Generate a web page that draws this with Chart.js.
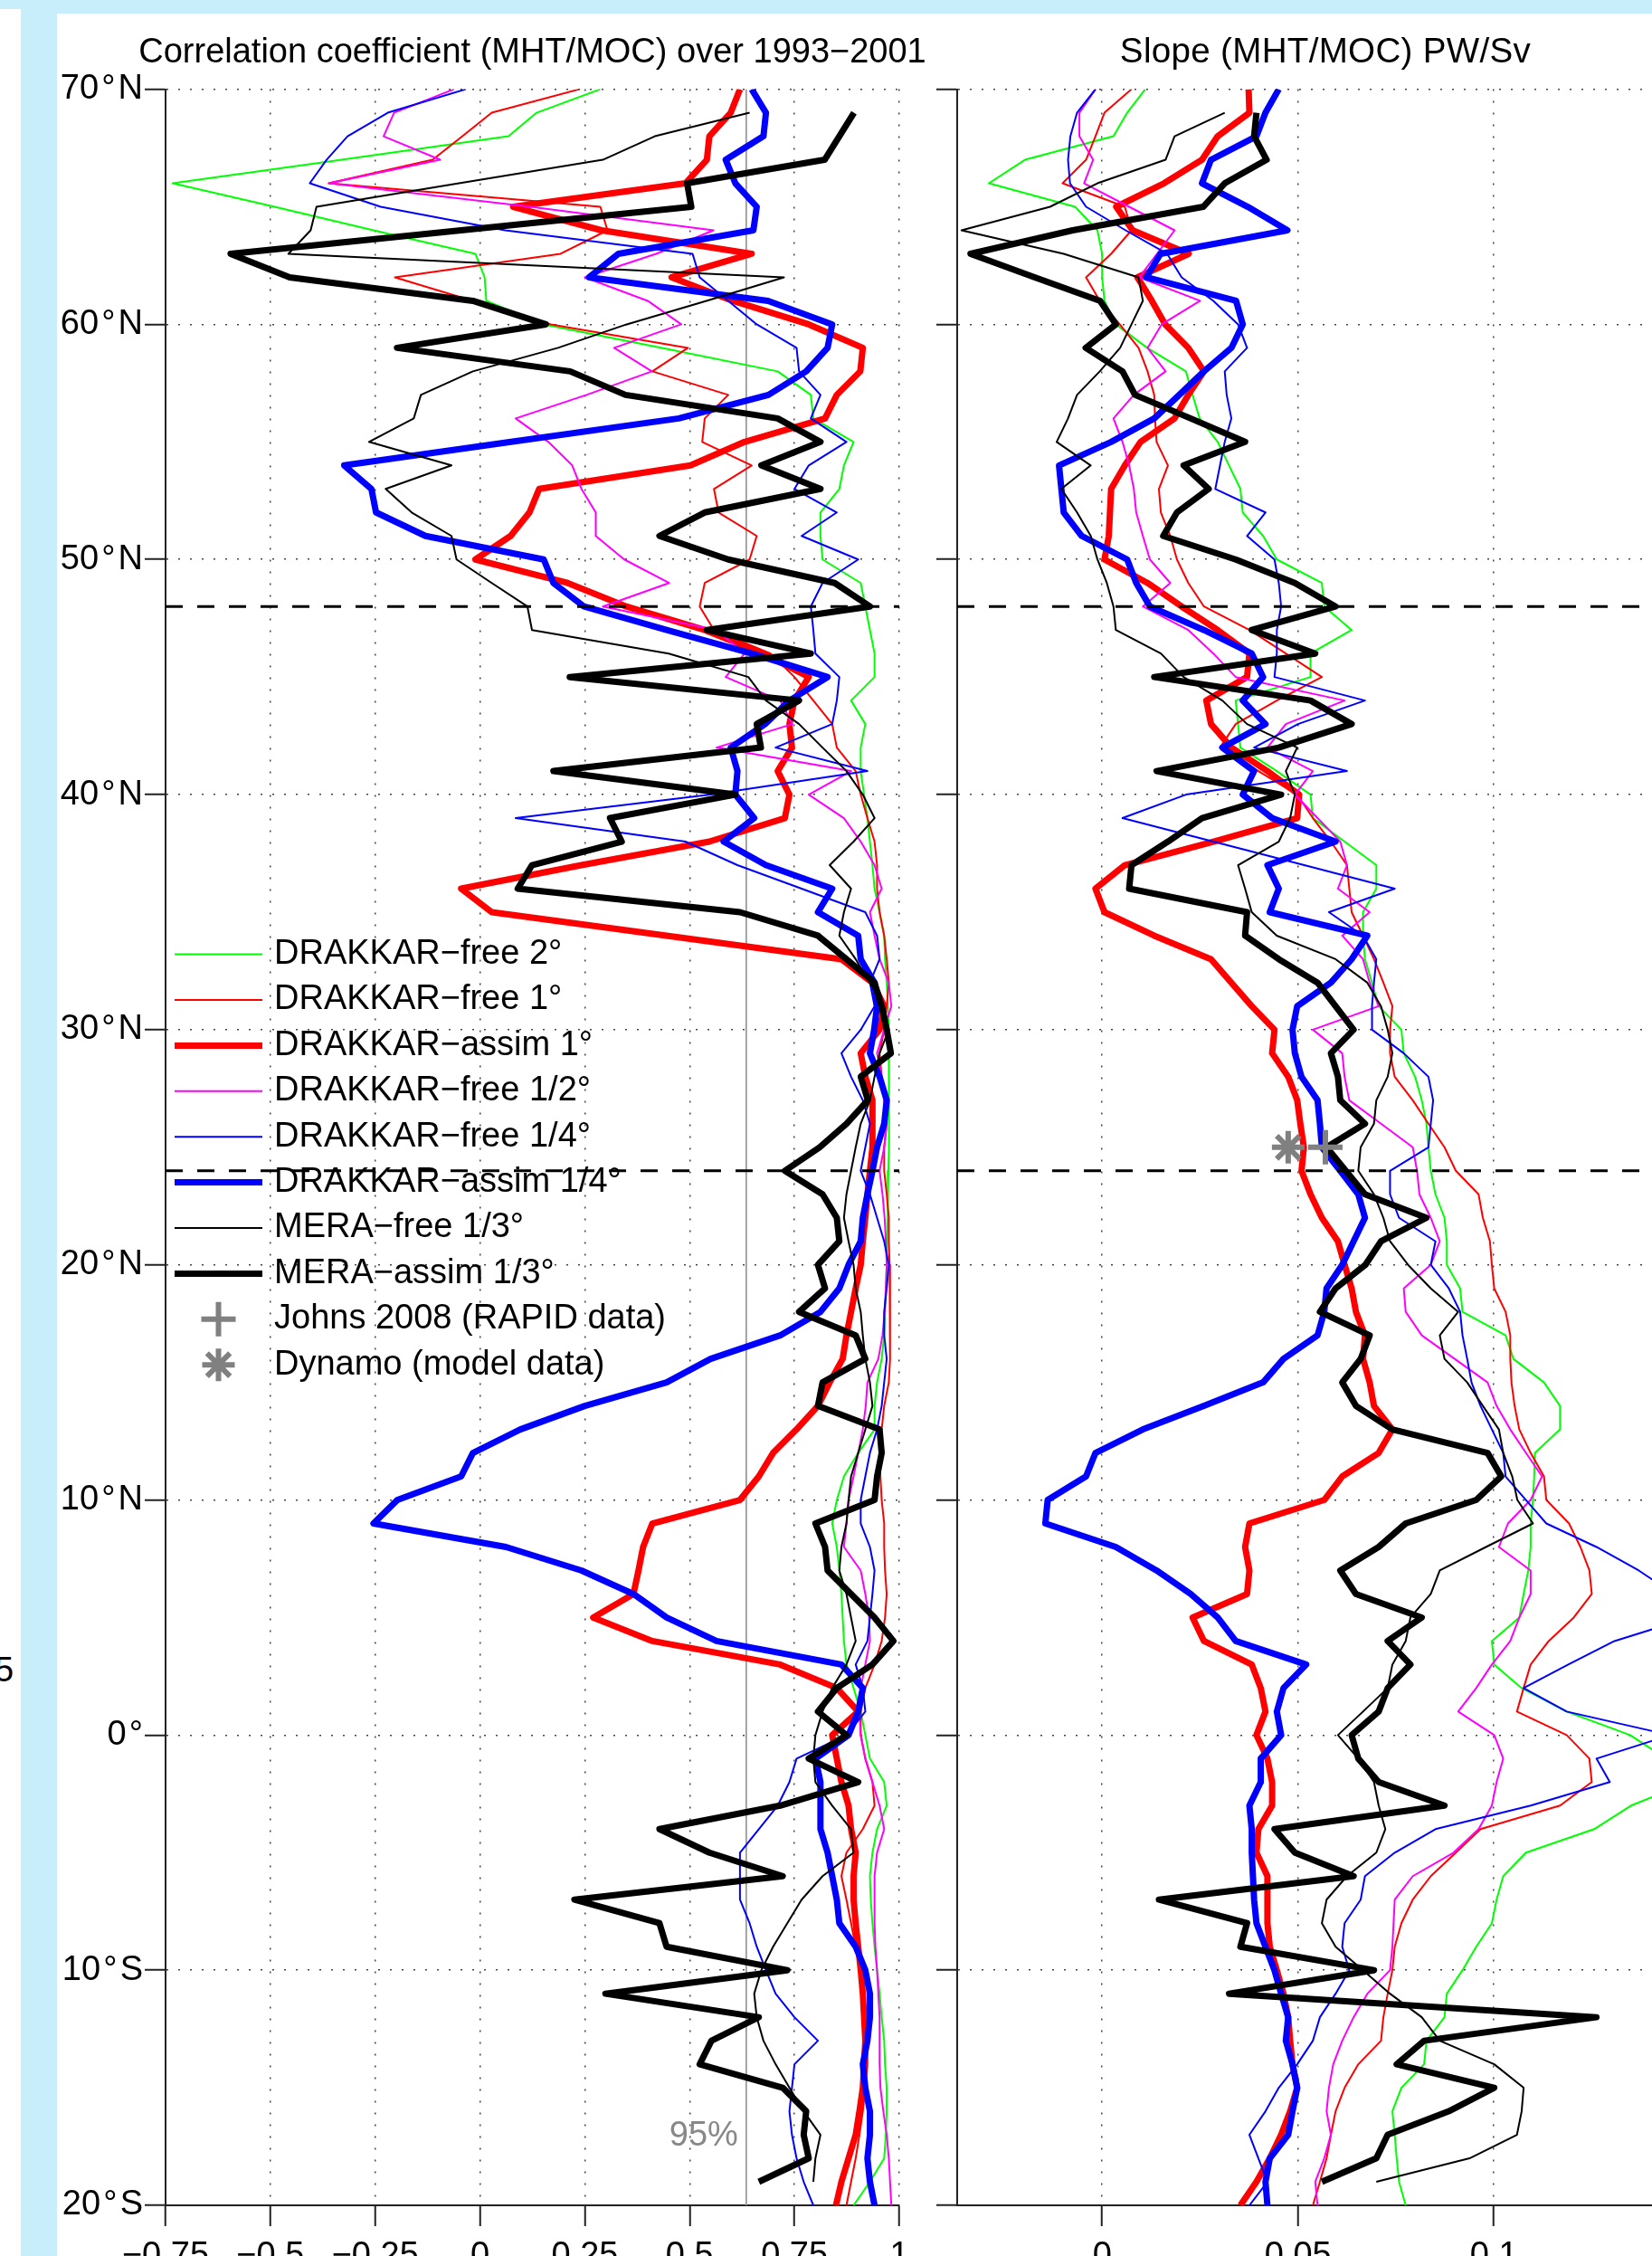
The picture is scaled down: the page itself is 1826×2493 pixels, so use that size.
<!DOCTYPE html>
<html>
<head>
<meta charset="utf-8">
<script src="https://cdn.jsdelivr.net/npm/chart.js@4.4.1/dist/chart.umd.min.js"></script>
<style>
  html, body { margin: 0; padding: 0; width: 1826px; height: 2493px; overflow: hidden; background: #ffffff; }
  #topBand  { position: absolute; left: 0; top: 0; width: 1826px; height: 15px; background: #c8eefc; }
  #leftBand { position: absolute; left: 23px; top: 0; width: 40px; height: 2493px; background: #c8eefc; }
  #leftEdge { position: absolute; left: 0; top: 10px; width: 23px; height: 2483px; background: #ffffff; overflow: hidden; }
  #leftEdge span { position: absolute; left: -6px; top: 1816px; font: 38px 'Liberation Sans', Arial, sans-serif; line-height: 38px; color: #000; }
  #wrapCorr  { position: absolute; left: 63px;   top: 15px; width: 960px; height: 2478px; }
  #wrapSlope { position: absolute; left: 1023px; top: 15px; width: 849px; height: 2478px; }
</style>
</head>
<body>
<div id="topBand"></div>
<div id="leftBand"></div>
<div id="leftEdge"><span>5</span></div>
<div id="wrapCorr"><canvas id="corrChart" width="960" height="2478"></canvas></div>
<div id="wrapSlope"><canvas id="slopeChart" width="849" height="2478"></canvas></div>

<script>
// Latitude of every sample, 70°N to 20°S (negative = south)
const LAT = [70,69,68,67,66,65,64,63,62,61,
             60,59,58,57,56,55,54,53,52,51,
             50,49,48,47,46,45,44,43,42,41,
             40,39,38,37,36,35,34,33,32,31,
             30,29,28,27,26,25,24,23,22,21,
             20,19,18,17,16,15,14,13,12,11,
             10,9,8,7,6,5,4,3,2,1,
             0,-1,-2,-3,-4,-5,-6,-7,-8,-9,
             -10,-11,-12,-13,-14,-15,-16,-17,-18,-19,
             -20];

// Axis ticks and labels
const Y_TICKS  = [-20,-10,0,10,20,30,40,50,60,70];
const Y_LABELS = ['20\u200A°\u200AS','10\u200A°\u200AS','0\u200A°','10\u200A°\u200AN','20\u200A°\u200AN',
                  '30\u200A°\u200AN','40\u200A°\u200AN','50\u200A°\u200AN','60\u200A°\u200AN','70\u200A°\u200AN'];
const CORR_TICKS  = [-0.75,-0.5,-0.25,0,0.25,0.5,0.75,1];
const CORR_LABELS = ['−0.75','−0.5','−0.25','0','0.25','0.5','0.75','1'];
const SLOPE_TICKS  = [0,0.05,0.1];
const SLOPE_LABELS = ['0','0.05','0.1'];
const CORR_RANGE  = [-0.75, 1];
const SLOPE_RANGE = [-0.037, 0.151];
const LAT_RANGE   = [-20, 70];

// Reference latitudes (dashed) and 95% significance level of the correlation
const SECTION_LATS = [48, 24];
const SIG95 = 0.635;

// Observation / model estimates of the slope at 25°N
const RAPID_SLOPE  = [{x: 0.057,  y: 25}];
const DYNAMO_SLOPE = [{x: 0.0475, y: 25}];

// ---------- Correlation coefficient MHT/MOC, 1993-2001 ----------
const corrFree2 = [0.287,0.135,0.068,-0.33,-0.733,-0.49,-0.254,-0.011,0.011,0.015,
  0.152,0.434,0.71,0.789,0.795,0.891,0.868,0.857,0.812,0.812,
  0.817,0.908,0.919,0.93,0.941,0.941,0.885,0.919,0.908,0.908,
  0.916,0.924,0.93,0.936,0.941,0.953,0.964,0.966,0.97,0.973,
  0.975,0.975,0.975,0.976,0.976,0.975,0.974,0.973,0.972,0.971,
  0.97,0.968,0.966,0.964,0.958,0.947,0.941,0.941,0.902,0.868,
  0.851,0.84,0.851,0.857,0.862,0.865,0.868,0.874,0.891,0.908,
  0.919,0.93,0.964,0.97,0.947,0.936,0.93,0.932,0.936,0.941,
  0.947,0.953,0.958,0.964,0.966,0.97,0.97,0.968,0.964,0.93,
  0.891];
const corrFree1 = [0.237,0.028,-0.042,-0.113,-0.361,0.287,0.304,0.192,-0.203,-0.017,
  0.169,0.496,0.411,0.592,0.536,0.53,0.648,0.558,0.569,0.66,
  0.643,0.536,0.524,0.558,0.693,0.75,0.795,0.84,0.851,0.896,
  0.908,0.924,0.941,0.947,0.947,0.953,0.964,0.97,0.975,0.97,
  0.964,0.953,0.958,0.964,0.97,0.964,0.964,0.97,0.975,0.975,
  0.977,0.978,0.978,0.978,0.978,0.975,0.964,0.958,0.953,0.955,
  0.958,0.964,0.964,0.966,0.97,0.966,0.958,0.941,0.919,0.908,
  0.908,0.919,0.936,0.941,0.913,0.874,0.862,0.874,0.885,0.896,
  0.908,0.916,0.921,0.924,0.924,0.919,0.913,0.905,0.896,0.885,
  0.874];
const corrAssim1 = [0.62,0.598,0.547,0.541,0.49,0.079,0.29,0.648,0.457,0.603,
  0.784,0.913,0.907,0.851,0.823,0.631,0.502,0.141,0.118,0.073,
  -0.011,0.209,0.349,0.536,0.676,0.784,0.75,0.738,0.744,0.71,
  0.738,0.727,0.547,0.242,-0.045,0.028,0.445,0.862,0.936,0.964,
  0.953,0.908,0.919,0.936,0.936,0.936,0.93,0.924,0.919,0.913,
  0.908,0.896,0.885,0.874,0.865,0.834,0.806,0.755,0.699,0.665,
  0.62,0.411,0.389,0.378,0.366,0.27,0.411,0.716,0.851,0.902,
  0.84,0.851,0.862,0.879,0.885,0.896,0.891,0.891,0.896,0.902,
  0.908,0.913,0.916,0.919,0.916,0.913,0.905,0.896,0.879,0.862,
  0.849];
const corrFree05 = [-0.062,-0.205,-0.23,-0.095,-0.36,0.12,0.557,0.42,0.25,0.40,
  0.48,0.32,0.41,0.254,0.085,0.163,0.22,0.242,0.276,0.276,
  0.344,0.451,0.293,0.564,0.631,0.586,0.716,0.745,0.564,0.885,
  0.784,0.868,0.908,0.941,0.958,0.93,0.941,0.953,0.975,0.981,
  0.964,0.947,0.958,0.97,0.97,0.964,0.953,0.96,0.965,0.968,
  0.97,0.968,0.965,0.96,0.95,0.924,0.92,0.913,0.902,0.891,
  0.879,0.874,0.868,0.908,0.919,0.928,0.93,0.919,0.908,0.905,
  0.908,0.919,0.936,0.953,0.964,0.947,0.941,0.941,0.941,0.943,
  0.947,0.95,0.953,0.953,0.953,0.955,0.962,0.97,0.975,0.978,
  0.981];
const corrFree025 = [-0.034,-0.22,-0.316,-0.366,-0.406,-0.237,0.06,0.507,0.524,0.592,
  0.66,0.755,0.761,0.812,0.789,0.874,0.784,0.75,0.851,0.767,
  0.902,0.817,0.789,0.795,0.80,0.857,0.851,0.84,0.705,0.924,
  0.55,0.085,0.49,0.614,0.767,0.919,0.947,0.953,0.93,0.941,
  0.908,0.862,0.885,0.913,0.93,0.919,0.908,0.93,0.947,0.964,
  0.975,0.97,0.964,0.964,0.97,0.964,0.958,0.947,0.93,0.919,
  0.908,0.908,0.93,0.941,0.936,0.93,0.924,0.896,0.913,0.919,
  0.874,0.755,0.738,0.71,0.665,0.62,0.62,0.62,0.643,0.66,
  0.682,0.705,0.75,0.806,0.75,0.744,0.738,0.744,0.755,0.772,
  0.795];
const corrAssim025 = [0.648,0.682,0.676,0.586,0.609,0.66,0.652,0.33,0.26,0.687,
  0.84,0.829,0.778,0.688,0.474,0.074,-0.324,-0.259,-0.248,-0.13,
  0.152,0.175,0.248,0.445,0.648,0.829,0.738,0.68,0.598,0.614,
  0.609,0.654,0.581,0.682,0.84,0.806,0.902,0.908,0.941,0.947,
  0.94,0.93,0.953,0.97,0.964,0.947,0.936,0.924,0.913,0.908,
  0.879,0.857,0.812,0.716,0.55,0.445,0.25,0.096,-0.017,-0.045,
  -0.197,-0.254,0.062,0.242,0.366,0.445,0.564,0.862,0.913,0.902,
  0.879,0.80,0.812,0.812,0.812,0.829,0.84,0.851,0.857,0.896,
  0.919,0.93,0.93,0.924,0.913,0.919,0.93,0.93,0.924,0.93,
  0.941];
const corrMeraFree = [null,0.643,0.417,0.293,-0.05,-0.39,-0.404,-0.457,0.725,0.54,
  0.35,0.186,-0.017,-0.141,-0.158,-0.265,-0.068,-0.225,-0.163,-0.068,
  -0.056,0.028,0.113,0.124,0.45,0.64,0.682,0.761,0.817,0.874,
  0.913,0.941,0.891,0.834,0.885,0.868,0.857,0.896,0.93,0.964,
  0.975,0.953,0.941,0.93,0.908,0.896,0.885,0.874,0.868,0.879,
  0.891,0.896,0.908,0.913,0.919,0.93,0.936,0.919,0.902,0.885,
  0.879,0.874,0.862,0.857,0.874,0.885,0.896,0.874,0.84,0.817,
  0.80,0.795,0.80,0.84,0.885,0.891,0.817,0.767,0.733,0.699,
  0.671,0.654,0.66,0.676,0.705,0.738,0.772,0.812,0.80,0.795,
  null];
const corrMeraAssim = [null,0.892,0.857,0.822,0.494,0.504,-0.045,-0.595,-0.454,-0.017,
  0.157,-0.198,0.215,0.347,0.71,0.812,0.671,0.812,0.536,0.428,
  0.592,0.846,0.93,0.541,0.789,0.214,0.761,0.66,0.67,0.175,
  0.609,0.31,0.338,0.124,0.09,0.62,0.806,0.874,0.941,0.958,
  0.97,0.98,0.908,0.925,0.874,0.81,0.727,0.817,0.851,0.857,
  0.806,0.823,0.761,0.896,0.919,0.817,0.806,0.953,0.958,0.947,
  0.941,0.80,0.823,0.829,0.885,0.941,0.986,0.936,0.851,0.806,
  0.874,0.784,0.902,0.716,0.428,0.547,0.722,0.225,0.428,0.445,
  0.733,0.299,0.665,0.552,0.524,0.722,0.778,0.772,0.784,0.665,
  null];

// ---------- Slope MHT/MOC (PW/Sv) ----------
const slopeFree2 = [0.011,0.0064,0.0029,-0.0197,-0.0289,-0.0069,-0.0012,0.0,0.0,0.0006,
  0.0035,0.0115,0.0214,0.0231,0.0249,0.0295,0.0324,0.0353,0.0359,0.0411,
  0.0446,0.0561,0.0567,0.0637,0.0532,0.0532,0.0341,0.0347,0.0353,0.0446,
  0.0532,0.0538,0.0619,0.07,0.07,0.0666,0.0666,0.0671,0.0689,0.0706,
  0.0764,0.077,0.0799,0.0816,0.0828,0.0833,0.0839,0.0851,0.0874,0.088,
  0.088,0.0914,0.092,0.103,0.105,0.1128,0.1169,0.1169,0.1105,0.1103,
  0.11,0.1094,0.1094,0.1088,0.1076,0.1065,0.0995,0.1001,0.1071,0.1186,
  0.1348,0.144,0.15,0.135,0.1256,0.1082,0.1024,0.1007,0.0995,0.0955,
  0.092,0.088,0.0874,0.0828,0.0822,0.0764,0.0741,0.0747,0.0752,0.0758,
  0.0775];
const slopeFree1 = [0.0075,0.0006,-0.0017,-0.0041,-0.0101,0.0058,0.0075,0.0023,-0.0041,-0.0006,
  0.0045,0.0093,0.0116,0.0133,0.0135,0.0139,0.0168,0.0145,0.015,0.0174,
  0.0191,0.022,0.026,0.0376,0.0469,0.0561,0.0446,0.0341,0.0301,0.0399,
  0.0498,0.0538,0.0584,0.0625,0.0631,0.0637,0.0666,0.0694,0.0718,0.0741,
  0.0735,0.0735,0.0747,0.0793,0.0833,0.0874,0.0903,0.0961,0.0972,0.099,
  0.0995,0.1001,0.103,0.1042,0.1042,0.1045,0.1053,0.1065,0.1094,0.1128,
  0.1134,0.1192,0.1221,0.1244,0.125,0.1204,0.114,0.1094,0.1076,0.1059,
  0.1186,0.1244,0.125,0.1169,0.0966,0.0903,0.0839,0.0793,0.0764,0.0747,
  0.0741,0.0729,0.0718,0.0712,0.0654,0.0619,0.0596,0.0584,0.0573,0.0556,
  0.0538];
const slopeAssim1 = [0.0374,0.0376,0.0295,0.0255,0.0158,0.0036,0.0078,0.0221,0.009,0.0127,
  0.0161,0.022,0.026,0.022,0.0185,0.0098,0.0058,0.0023,0.002,0.0017,
  0.0006,0.0116,0.0203,0.0295,0.0376,0.037,0.0266,0.0278,0.033,0.0422,
  0.0503,0.0498,0.0284,0.0058,-0.0017,0.0006,0.0133,0.0278,0.033,0.0382,
  0.044,0.0434,0.0475,0.0498,0.0506,0.0515,0.0509,0.0532,0.0561,0.0602,
  0.0619,0.0637,0.0648,0.0671,0.0666,0.0683,0.0694,0.0741,0.0706,0.0613,
  0.0567,0.0376,0.0365,0.0376,0.037,0.0231,0.026,0.0382,0.0405,0.0417,
  0.0394,0.0422,0.0434,0.0434,0.0399,0.0394,0.0422,0.0422,0.0422,0.0428,
  0.0446,0.0463,0.0475,0.048,0.0486,0.0498,0.048,0.0457,0.0428,0.0394,
  0.0353];
const slopeFree05 = [-0.0017,-0.0058,-0.0058,-0.0023,-0.0046,0.0069,0.0185,0.014,0.0095,0.025,
  0.0152,0.0116,0.0162,0.0081,0.0029,0.0052,0.0069,0.0081,0.0087,0.0104,
  0.0122,0.0174,0.0104,0.022,0.0284,0.0341,0.0619,0.0469,0.0422,0.0538,
  0.0492,0.055,0.0608,0.0625,0.0602,0.0683,0.0613,0.0666,0.0683,0.0706,
  0.0538,0.0613,0.0619,0.0631,0.0712,0.0793,0.0804,0.081,0.0839,0.0862,
  0.0839,0.077,0.0775,0.0816,0.09,0.0984,0.1007,0.1042,0.1082,0.1123,
  0.1094,0.1036,0.1013,0.1094,0.1094,0.1065,0.1042,0.0995,0.0955,0.0909,
  0.1001,0.1024,0.1007,0.0995,0.0961,0.0897,0.0793,0.0747,0.0744,0.0741,
  0.0735,0.0677,0.0642,0.0613,0.059,0.0579,0.0573,0.0584,0.0567,0.0544,
  0.055];
const slopeFree025 = [-0.0017,-0.0064,-0.0081,-0.0087,-0.0082,-0.0041,0.006,0.0166,0.0203,0.0284,
  0.0347,0.037,0.0313,0.0318,0.033,0.0313,0.0301,0.0289,0.0417,0.037,
  0.044,0.0451,0.0457,0.0446,0.0446,0.044,0.0671,0.05,0.0388,0.0625,
  0.0214,0.0052,0.0284,0.0516,0.0747,0.0579,0.0666,0.07,0.0694,0.0689,
  0.0689,0.077,0.0833,0.0845,0.0839,0.0833,0.0735,0.0735,0.0758,0.0851,
  0.0839,0.0885,0.0914,0.092,0.0932,0.0943,0.0966,0.0995,0.1024,0.103,
  0.1082,0.1134,0.1262,0.137,0.146,0.15,0.1308,0.119,0.1076,0.1186,
  0.145,0.1262,0.1296,0.1094,0.0851,0.0747,0.0671,0.066,0.0619,0.0613,
  0.0631,0.0596,0.0556,0.0538,0.0498,0.0451,0.0417,0.0376,0.0399,0.0422,
  0.0376];
const slopeAssim025 = [0.0451,0.0417,0.0394,0.0278,0.0255,0.0372,0.0473,0.0149,0.0113,0.0342,
  0.0359,0.033,0.026,0.0197,0.0133,0.0023,-0.011,-0.0104,-0.0098,-0.0052,
  0.0064,0.0087,0.0122,0.026,0.0382,0.0411,0.0359,0.0417,0.0307,0.0388,
  0.0359,0.0434,0.0596,0.0422,0.0451,0.0428,0.0677,0.0637,0.0584,0.0498,
  0.0486,0.0492,0.0509,0.055,0.0556,0.0561,0.0608,0.0654,0.0671,0.0642,
  0.0613,0.0573,0.0567,0.055,0.0463,0.0411,0.026,0.0104,-0.0017,-0.0041,
  -0.0139,-0.0145,0.0035,0.0139,0.0226,0.0295,0.0341,0.0521,0.0463,0.0446,
  0.0457,0.0405,0.0405,0.0376,0.0382,0.0382,0.0385,0.0388,0.0394,0.0417,
  0.044,0.0457,0.0475,0.0469,0.0486,0.0498,0.0486,0.0475,0.0428,0.0417,
  0.0422];
const slopeMeraFree = [null,0.0313,0.0185,0.0162,-0.0012,-0.0133,-0.0359,-0.0098,0.0093,0.0104,
  0.0075,0.0046,-0.0006,-0.0064,-0.0087,-0.0116,-0.0029,-0.0104,-0.0064,-0.0029,
  -0.0012,0.0012,0.0029,0.0035,0.015,0.0208,0.0307,0.037,0.0498,0.0469,
  0.0492,0.048,0.0451,0.0347,0.0365,0.0382,0.0446,0.0596,0.0677,0.0712,
  0.0729,0.0741,0.0729,0.07,0.0694,0.066,0.0654,0.0694,0.0718,0.0735,
  0.0781,0.0839,0.0909,0.0862,0.0874,0.0932,0.0972,0.1013,0.1024,0.1047,
  0.106,0.11,0.098,0.0862,0.0839,0.0787,0.0775,0.0741,0.0729,0.0666,
  0.0602,0.0654,0.0694,0.0706,0.0723,0.07,0.0625,0.0573,0.0561,0.0596,
  0.0666,0.0735,0.0816,0.0862,0.1001,0.1076,0.1071,0.1059,0.0938,0.07,
  null];
const slopeMeraAssim = [null,0.0394,0.0388,0.042,0.0313,0.0258,-0.0075,-0.0336,-0.0172,-0.0005,
  0.0035,-0.0042,0.0052,0.0084,0.0226,0.0365,0.0208,0.0272,0.0191,0.0156,
  0.0341,0.0492,0.0596,0.0382,0.0544,0.0133,0.0532,0.0637,0.0451,0.0139,
  0.0457,0.0255,0.0168,0.0075,0.0069,0.037,0.0365,0.0451,0.055,0.0596,
  0.0642,0.0584,0.0602,0.0608,0.0671,0.0573,0.0622,0.0671,0.0828,0.0712,
  0.0672,0.0596,0.0556,0.0683,0.066,0.0613,0.0648,0.0741,0.0984,0.1019,
  0.0955,0.0775,0.0706,0.0608,0.0648,0.0816,0.0729,0.0787,0.0729,0.0706,
  0.0637,0.0654,0.0706,0.0874,0.044,0.0492,0.0642,0.0145,0.037,0.0353,
  0.0694,0.0324,0.1262,0.0822,0.0752,0.1001,0.0885,0.0729,0.07,0.0561,
  null];

// Run names and line styles, in plotting order
const RUNS = [
  {label: 'DRAKKAR−free 2°',    color: '#00ff00', width: 2},
  {label: 'DRAKKAR−free 1°',    color: '#ff0000', width: 2},
  {label: 'DRAKKAR−assim 1°',   color: '#ff0000', width: 7},
  {label: 'DRAKKAR−free 1/2°',  color: '#ff00ff', width: 2},
  {label: 'DRAKKAR−free 1/4°',  color: '#0000ff', width: 2},
  {label: 'DRAKKAR−assim 1/4°', color: '#0000ff', width: 7},
  {label: 'MERA−free 1/3°',     color: '#000000', width: 2},
  {label: 'MERA−assim 1/3°',    color: '#000000', width: 7}
];
const CORR_SERIES  = [corrFree2, corrFree1, corrAssim1, corrFree05, corrFree025, corrAssim025, corrMeraFree, corrMeraAssim];
const SLOPE_SERIES = [slopeFree2, slopeFree1, slopeAssim1, slopeFree05, slopeFree025, slopeAssim025, slopeMeraFree, slopeMeraAssim];

const FONT_FAMILY = "'Liberation Sans', Arial, Helvetica, sans-serif";
Chart.defaults.font.family = FONT_FAMILY;
Chart.defaults.font.size = 38;
Chart.defaults.color = '#000';

function toPoints(values) {
  const pts = [];
  values.forEach((v, i) => { if (v !== null) pts.push({x: v, y: LAT[i]}); });
  return pts;
}

function runDatasets(seriesList) {
  return RUNS.map((run, i) => ({
    label: run.label,
    data: toPoints(seriesList[i]),
    borderColor: run.color,
    backgroundColor: run.color,
    borderWidth: run.width,
    borderJoinStyle: 'round',
    pointRadius: 0,
    tension: 0,
    fill: false,
    order: RUNS.length - i + 2,
    legendRow: i
  }));
}

function markerDatasets(withData) {
  return [
    {label: 'Johns 2008 (RAPID data)', data: withData ? RAPID_SLOPE : [], showLine: false,
     pointStyle: 'cross', pointRadius: 19, pointBorderWidth: 6, pointBorderColor: '#808080',
     borderColor: '#808080', backgroundColor: '#808080', order: 0, legendRow: 8},
    {label: 'Dynamo (model data)', data: withData ? DYNAMO_SLOPE : [], showLine: false,
     pointStyle: 'star', pointRadius: 18, pointBorderWidth: 6, pointBorderColor: '#808080',
     borderColor: '#808080', backgroundColor: '#808080', order: 0, legendRow: 9}
  ];
}

function sectionDatasets(range) {
  return SECTION_LATS.map(lat => ({
    label: 'section ' + lat,
    data: [{x: range[0], y: lat}, {x: range[1], y: lat}],
    borderColor: '#000', borderWidth: 3, borderDash: [19, 16],
    pointRadius: 0, fill: false, order: 1
  }));
}

// Panel title, centred over the plotting area
const panelTitle = {
  id: 'panelTitle',
  afterDraw(chart, args, opts) {
    const {ctx, chartArea} = chart;
    ctx.save();
    ctx.font = opts.size + 'px ' + FONT_FAMILY;
    ctx.fillStyle = '#000';
    ctx.textAlign = 'center';
    ctx.textBaseline = 'alphabetic';
    if ('letterSpacing' in ctx) ctx.letterSpacing = opts.spacing + 'px';
    ctx.fillText(opts.text, (chartArea.left + chartArea.right) / 2, opts.baseline);
    ctx.restore();
  }
};

// Legend drawn inside the correlation panel, from the datasets themselves
const insetLegend = {
  id: 'insetLegend',
  afterDatasetsDraw(chart, args, opts) {
    if (!opts || !opts.show) return;
    const ctx = chart.ctx;
    const items = chart.data.datasets.filter(d => d.legendRow !== undefined)
                                     .sort((a, b) => a.legendRow - b.legendRow);
    ctx.save();
    items.forEach((ds, i) => {
      const y = opts.top + i * opts.rowGap;
      ctx.setLineDash([]);
      if (ds.showLine === false) {
        ctx.strokeStyle = ds.pointBorderColor;
        ctx.fillStyle = ds.pointBorderColor;
        ctx.lineWidth = ds.pointBorderWidth;
        Chart.helpers.drawPoint(ctx, {pointStyle: ds.pointStyle, radius: ds.pointRadius,
          borderWidth: ds.pointBorderWidth, rotation: 0}, (opts.lineStart + opts.lineEnd) / 2, y);
      } else {
        ctx.strokeStyle = ds.borderColor;
        ctx.lineWidth = ds.borderWidth;
        ctx.lineCap = 'butt';
        ctx.beginPath();
        ctx.moveTo(opts.lineStart, y);
        ctx.lineTo(opts.lineEnd, y);
        ctx.stroke();
      }
      ctx.fillStyle = '#000';
      ctx.font = '38px ' + FONT_FAMILY;
      ctx.textAlign = 'left';
      ctx.textBaseline = 'middle';
      ctx.fillText(ds.label, opts.textX, y);
    });
    ctx.restore();
  }
};

// "95%" tag next to the significance line
const sigLabel = {
  id: 'sigLabel',
  afterDatasetsDraw(chart, args, opts) {
    if (!opts || !opts.show) return;
    const ctx = chart.ctx;
    const x = chart.scales.x.getPixelForValue(SIG95) - 9;
    const y = chart.scales.y.getPixelForValue(-17.05);
    ctx.save();
    ctx.fillStyle = '#888888';
    ctx.font = '38px ' + FONT_FAMILY;
    ctx.textAlign = 'right';
    ctx.textBaseline = 'middle';
    ctx.fillText('95%', x, y);
    ctx.restore();
  }
};

function panelOptions(cfg) {
  return {
    responsive: false,
    animation: false,
    devicePixelRatio: 1,
    layout: {autoPadding: false, padding: {left: 0, right: cfg.padRight, top: 83.6, bottom: 0}},
    plugins: {
      legend: {display: false},
      tooltip: {enabled: false},
      title: {display: false},
      panelTitle: {text: cfg.title, size: cfg.titleSize, spacing: cfg.titleSpacing, baseline: 54},
      insetLegend: {show: cfg.legend, top: 1039.6, rowGap: 50.4, lineStart: 130, lineEnd: 227, textX: 240},
      sigLabel: {show: cfg.sig}
    },
    scales: {
      x: {
        type: 'linear', min: cfg.range[0], max: cfg.range[1],
        afterBuildTicks: s => { s.ticks = cfg.ticks.map(v => ({value: v})); },
        afterFit: s => { s.height = 56; },
        ticks: {autoSkip: false, maxRotation: 0, padding: 11, color: '#000', font: {size: 38},
                callback: (v, i) => cfg.labels[i]},
        grid: {color: '#444', lineWidth: 1.5, drawTicks: true, tickLength: 23,
               tickColor: '#222', tickWidth: 2, tickBorderDash: []},
        border: {display: true, color: '#222', width: 2, dash: [2, 11]}
      },
      y: {
        type: 'linear', min: LAT_RANGE[0], max: LAT_RANGE[1],
        afterBuildTicks: s => { s.ticks = Y_TICKS.map(v => ({value: v})); },
        afterFit: s => { s.width = cfg.yWidth; },
        ticks: {display: cfg.yLabels, padding: 2, color: '#000', font: {size: 38},
                callback: (v, i) => Y_LABELS[i]},
        grid: {color: '#444', lineWidth: 1.5, drawTicks: true, tickLength: 23,
               tickColor: '#222', tickWidth: 2, tickBorderDash: []},
        border: {display: true, color: '#222', width: 2, dash: [2, 11]}
      }
    }
  };
}

new Chart(document.getElementById('corrChart'), {
  type: 'line',
  data: {
    datasets: [
      {label: 'sig95', data: [{x: SIG95, y: LAT_RANGE[0]}, {x: SIG95, y: LAT_RANGE[1]}],
       borderColor: '#9a9a9a', borderWidth: 1.8, pointRadius: 0, fill: false, order: 50},
      ...runDatasets(CORR_SERIES),
      ...markerDatasets(false),
      ...sectionDatasets(CORR_RANGE)
    ]
  },
  options: panelOptions({title: 'Correlation coefficient (MHT/MOC) over 1993−2001', titleSize: 38, titleSpacing: 0,
    range: CORR_RANGE, ticks: CORR_TICKS, labels: CORR_LABELS,
    padRight: 29, yWidth: 120, yLabels: true, legend: true, sig: true}),
  plugins: [panelTitle, insetLegend, sigLabel]
});

new Chart(document.getElementById('slopeChart'), {
  type: 'line',
  data: {
    datasets: [
      ...runDatasets(SLOPE_SERIES),
      ...markerDatasets(true),
      ...sectionDatasets(SLOPE_RANGE)
    ]
  },
  options: panelOptions({title: 'Slope (MHT/MOC) PW/Sv', titleSize: 38.6, titleSpacing: 0.3,
    range: SLOPE_RANGE, ticks: SLOPE_TICKS, labels: SLOPE_LABELS,
    padRight: 0, yWidth: 35, yLabels: false, legend: false, sig: false}),
  plugins: [panelTitle, insetLegend, sigLabel]
});
</script>
</body>
</html>
